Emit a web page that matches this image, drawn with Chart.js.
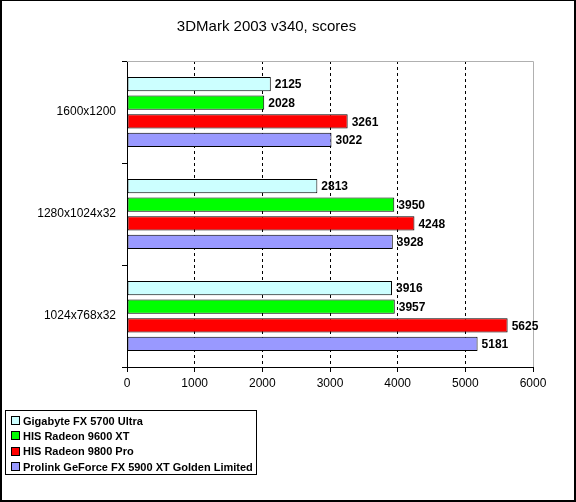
<!DOCTYPE html>
<html>
<head>
<meta charset="utf-8">
<script src="https://cdn.jsdelivr.net/npm/chart.js@4/dist/chart.umd.min.js"></script>
<style>
  body { margin: 0; background: #fff; }
  #wrap { position: relative; width: 576px; height: 502px; }
  #frame { position: absolute; left: 0; top: 0; width: 576px; height: 502px; box-sizing: border-box;
    border-style: solid; border-color: #000; border-width: 1px 2px 2px 2px; pointer-events: none; }
  #legend { position: absolute; left: 5px; top: 410px; width: 252px; height: 65px; box-sizing: border-box;
    border: 1px solid #000; padding: 2px 0 0 5px; font: bold 11px Arial, "Liberation Sans", sans-serif; }
  .item { height: 15.3px; display: flex; align-items: center; white-space: nowrap; }
  .swatch { width: 7px; height: 7px; border: 1px solid #000; margin-right: 3px; flex: none; }
</style>
</head>
<body>
<div id="wrap">
  <canvas id="chart" width="576" height="502"></canvas>
  <div id="legend"></div>
  <div id="frame"></div>
</div>
<script>
// Data
const resolutions = ["1600x1200", "1280x1024x32", "1024x768x32"];
const gigabyte5700 = [2125, 2813, 3916];
const his9600 = [2028, 3950, 3957];
const his9800 = [3261, 4248, 5625];
const prolink5900 = [3022, 3928, 5181];
const seriesNames = [
  "Gigabyte FX 5700 Ultra",
  "HIS Radeon 9600 XT",
  "HIS Radeon 9800 Pro",
  "Prolink GeForce FX 5900 XT Golden Limited",
];
const seriesColors = ["#ccffff", "#00ff00", "#ff0000", "#9999ff"];
const xTicks = [0, 1000, 2000, 3000, 4000, 5000, 6000];

const FONT = 'Arial, "Liberation Sans", sans-serif';

// value next to each bar
const valueLabels = {
  id: "valueLabels",
  afterDatasetsDraw(chart) {
    const ctx = chart.ctx;
    ctx.save();
    ctx.font = "bold 12px " + FONT;
    ctx.fillStyle = "#000";
    ctx.textBaseline = "middle";
    chart.data.datasets.forEach((ds, i) => {
      chart.getDatasetMeta(i).data.forEach((bar, j) => {
        ctx.fillText(ds.data[j], bar.x + 4, bar.y + 1);
      });
    });
    ctx.restore();
  },
};

// grey frame on top and right of plot area
const plotFrame = {
  id: "plotFrame",
  beforeDatasetsDraw(chart) {
    const { ctx, chartArea: a } = chart;
    ctx.save();
    ctx.strokeStyle = "#b0b0b0";
    ctx.lineWidth = 1;
    ctx.beginPath();
    ctx.moveTo(a.left, a.top + 0.5);
    ctx.lineTo(a.right + 0.5, a.top + 0.5);
    ctx.lineTo(a.right + 0.5, a.bottom);
    ctx.stroke();
    ctx.restore();
  },
};

const datasets = [gigabyte5700, his9600, his9800, prolink5900].map((data, i) => ({
  label: seriesNames[i],
  data,
  backgroundColor: seriesColors[i],
  borderColor: "#000",
  borderWidth: 1,
  borderSkipped: false,
  barPercentage: 0.77,
  categoryPercentage: 0.73,
}));

const chart = new Chart(document.getElementById("chart"), {
  type: "bar",
  data: { labels: resolutions, datasets },
  plugins: [plotFrame, valueLabels],
  options: {
    indexAxis: "y",
    responsive: false,
    animation: false,
    layout: { padding: { left: 0, right: 43, top: 0, bottom: 105 } },
    plugins: {
      legend: { display: false },
      tooltip: { enabled: false },
      title: {
        display: true,
        text: "3DMark 2003 v340, scores",
        color: "#000",
        font: { family: FONT, size: 15, weight: "normal", lineHeight: 1.2 },
        padding: { top: 18, bottom: 25 },
      },
    },
    scales: {
      x: {
        min: 0,
        max: 6000,
        afterBuildTicks: (scale) => {
          scale.ticks = xTicks.map((v) => ({ value: v }));
        },
        afterFit: (scale) => { scale.height = 30; },
        grid: {
          color: (c) => (c.tick && c.tick.value > 0 && c.tick.value < 6000 ? "#000" : "rgba(0,0,0,0)"),
          tickColor: "#000",
          tickLength: 5,
          tickBorderDash: [],
        },
        border: { color: "#000", dash: [3, 3] },
        ticks: {
          color: "#000",
          padding: 4,
          font: { family: FONT, size: 12 },
          callback: (v) => String(v),
        },
      },
      y: {
        afterFit: (scale) => { scale.width = 127; },
        grid: { drawOnChartArea: false, tickColor: "#000", tickLength: 5 },
        border: { color: "#000" },
        ticks: { color: "#000", padding: 6, font: { family: FONT, size: 12 } },
      },
    },
  },
});

// legend box
const legend = document.getElementById("legend");
chart.data.datasets.forEach((ds) => {
  const item = document.createElement("div");
  item.className = "item";
  item.innerHTML = `<span class="swatch" style="background:${ds.backgroundColor}"></span>${ds.label}`;
  legend.appendChild(item);
});
</script>
</body>
</html>
